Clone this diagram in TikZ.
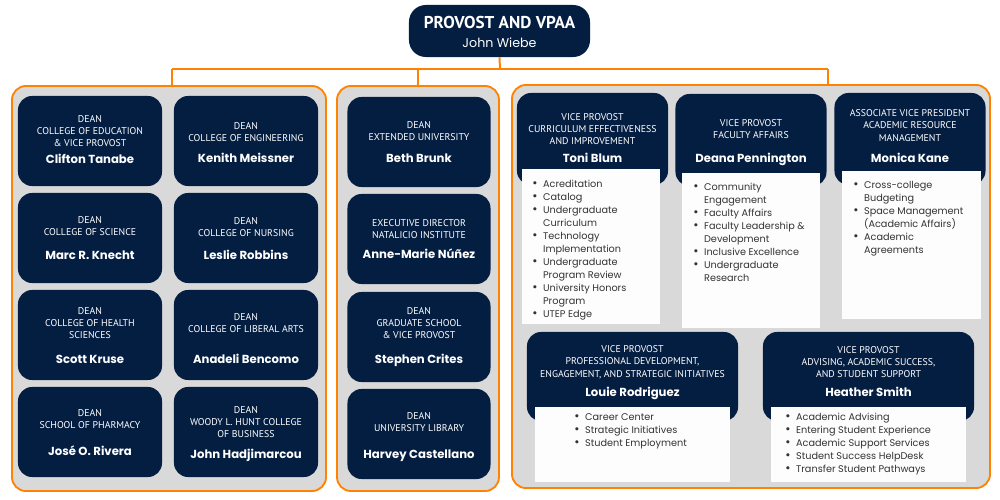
\documentclass[tikz,border=0pt]{standalone}
\usepackage{fontspec}
\setmainfont{Poppins}
\newfontfamily\rolefont{PT Sans}
\usepackage{xcolor}
\usetikzlibrary{positioning,calc}

\definecolor{utepnavy}{HTML}{041E42}
\definecolor{utepor}{HTML}{FF8200}
\definecolor{panelgray}{HTML}{D9D9D9}
\definecolor{listwhite}{HTML}{FDFDFD}
\definecolor{listgray}{HTML}{333333}

\newcommand{\bul}{{\fontsize{9}{9.25}\selectfont\textbullet}}

\begin{document}
\begin{tikzpicture}[x=0.025cm, y=-0.025cm,
    % Khung nhom (vien cam)
    panel/.style={draw=utepor, line width=1.3pt, fill=panelgray,
        rounded corners=10pt, inner sep=0pt},
    % O xanh dam
    card/.style={fill=utepnavy, rounded corners=10pt, inner sep=0pt},
    dean/.style={card, minimum width=3.6cm, minimum height=2.25cm},
    head/.style={card, minimum width=3.775cm, minimum height=2.3cm},
    widehead/.style={card, minimum width=5.275cm, minimum height=2.225cm},
    % Chuc danh va ten
    role/.style={text=white, align=center, inner sep=0pt,
        font=\rolefont\fontsize{7}{8.8}\selectfont},
    who/.style={text=white, anchor=base, inner sep=0pt,
        font=\bfseries\fontsize{8.3}{10}\selectfont},
    % O trang danh sach
    duty/.style={fill=listwhite, inner sep=0pt},
    dutytext/.style={anchor=north west, inner sep=0pt, text=listgray,
        font=\fontsize{6.9}{9.25}\selectfont},
    % Duong noi cam
    link/.style={draw=utepor, line width=1.4pt}
  ]

  \path[fill=white, use as bounding box] (0,0) rectangle (1000,500);

  % --- PROVOST ---
  \node[card, minimum width=4.525cm, minimum height=1.3cm, rounded corners=12pt] (prov) at (499.5,31) {};
  \node[text=white, inner sep=0pt, font=\rolefont\bfseries\fontsize{12.2}{14}\selectfont] (prov-t) at (499.5,22.5) {PROVOST AND VPAA};
  \node[text=white, inner sep=0pt, font=\fontsize{9}{10}\selectfont] (prov-n) at (499.5,43) {John Wiebe};

  % --- KHUNG NHOM ---
  \node[panel, minimum width=7.85cm, minimum height=10.125cm] (colp) at (169,288.5) {};
  \node[panel, minimum width=4.05cm, minimum height=10.125cm] (insp) at (418,288.5) {};
  \node[panel, minimum width=11.95cm, minimum height=10.075cm] (vpp) at (751,286.5) {};

  % --- DUONG NOI ---
  \coordinate (bus) at (500,69);
  \coordinate (busL) at (172,69);
  \coordinate (busM) at (418,69);
  \coordinate (busR) at (828,69);
  \draw[link] (prov.south) -- (bus);
  \draw[link] (busL) -- (busR);
  \draw[link] (busL) -- (busL |- colp.north);
  \draw[link] (busM) -- (busM |- insp.north);
  \draw[link] (busR) -- (busR |- vpp.north);

  % --- COT TRAI: cac truong ---
  \foreach \cx/\cy/\ry/\ny/\rl/\nm [count=\i] in {
      90/141/131/159/{DEAN\\COLLEGE OF EDUCATION\\\& VICE PROVOST}/{Clifton Tanabe},
      246/141/132/158/{DEAN\\COLLEGE OF ENGINEERING}/{Kenith Meissner},
      90/238/226/255/{DEAN\\COLLEGE OF SCIENCE}/{Marc R. Knecht},
      246/238/227/255/{DEAN\\COLLEGE OF NURSING}/{Leslie Robbins},
      90/335/323/359/{DEAN\\COLLEGE OF HEALTH\\SCIENCES}/{Scott Kruse},
      246/335/323/359/{DEAN\\COLLEGE OF LIBERAL ARTS}/{Anadeli Bencomo},
      90/432/419/451/{DEAN\\SCHOOL OF PHARMACY}/{José O. Rivera},
      246/432/422/454/{DEAN\\WOODY L. HUNT COLLEGE\\OF BUSINESS}/{John Hadjimarcou}} {
    \node[dean] (lc\i) at (\cx,\cy) {};
    \node[role] (lc\i-r) at (\cx,\ry) {\rl};
    \node[who] (lc\i-n) at (\cx,\ny+4) {\nm};
  }

  % --- COT GIUA ---
  \foreach \cy/\ry/\ny/\rl/\nm [count=\i] in {
      142/131/158/{DEAN\\EXTENDED UNIVERSITY}/{Beth Brunk},
      239/229/254/{EXECUTIVE DIRECTOR\\NATALICIO INSTITUTE}/{Anne-Marie Núñez},
      337/323/359/{DEAN\\GRADUATE SCHOOL\\\& VICE PROVOST}/{Stephen Crites},
      434/422/454/{DEAN\\UNIVERSITY LIBRARY}/{Harvey Castellano}} {
    \node[dean, minimum width=3.575cm] (mc\i) at (419,\cy) {};
    \node[role] (mc\i-r) at (419,\ry) {\rl};
    \node[who] (mc\i-n) at (419,\ny+4) {\nm};
  }

  % --- COT PHAI: hang tren ---
  \node[head] (cte) at (592.5,139) {};
  \node[duty, minimum width=3.45cm, minimum height=3.875cm] (cte-b) at (591,246.5) {};
  \node[role] (cte-r) at (592.5,129) {VICE PROVOST\\CURRICULUM EFFECTIVENESS\\AND IMPROVEMENT};
  \node[who] (cte-n) at (592.5,162) {Toni Blum};
  \node[dutytext] (cte-l) at (532,178.5) {\begin{tabular}{@{}l@{\hspace{4pt}}l@{}}
      \bul & Acreditation\\
      \bul & Catalog\\
      \bul & Undergraduate\\
           & Curriculum\\
      \bul & Technology\\
           & Implementation\\
      \bul & Undergraduate\\
           & Program Review\\
      \bul & University Honors\\
           & Program\\
      \bul & UTEP Edge
    \end{tabular}};

  \node[head] (fac) at (751,140) {};
  \node[duty, minimum width=3.45cm, minimum height=3.875cm] (fac-b) at (751,250.5) {};
  \node[role] (fac-r) at (751,129) {VICE PROVOST\\FACULTY AFFAIRS};
  \node[who] (fac-n) at (751,162) {Deana Pennington};
  \node[dutytext] (fac-l) at (693,181.5) {\begin{tabular}{@{}l@{\hspace{4pt}}l@{}}
      \bul & Community\\
           & Engagement\\
      \bul & Faculty Affairs\\
      \bul & Faculty Leadership \&\\
           & Development\\
      \bul & Inclusive Excellence\\
      \bul & Undergraduate\\
           & Research
    \end{tabular}};

  \node[head] (arm) at (910,139) {};
  \node[duty, minimum width=3.475cm, minimum height=3.7cm] (arm-b) at (911.5,245) {};
  \node[role] (arm-r) at (910,125.5) {ASSOCIATE VICE PRESIDENT\\ACADEMIC RESOURCE\\MANAGEMENT};
  \node[who] (arm-n) at (910,162) {Monica Kane};
  \node[dutytext] (arm-l) at (853,179.5) {\begin{tabular}{@{}l@{\hspace{4pt}}l@{}}
      \bul & Cross-college\\
           & Budgeting\\
      \bul & Space Management\\
           & (Academic Affairs)\\
      \bul & Academic\\
           & Agreements
    \end{tabular}};

  % --- COT PHAI: hang duoi ---
  \node[widehead] (pde) at (632.5,376.5) {};
  \node[duty, minimum width=4.875cm, minimum height=1.875cm] (pde-b) at (632.5,444.5) {};
  \node[role] (pde-r) at (632.5,362) {VICE PROVOST\\PROFESSIONAL DEVELOPMENT,\\ENGAGEMENT, AND STRATEGIC INITIATIVES};
  \node[who] (pde-n) at (632.5,396) {Louie Rodriguez};
  \node[dutytext] (pde-l) at (574,411.5) {\begin{tabular}{@{}l@{\hspace{4pt}}l@{}}
      \bul & Career Center\\
      \bul & Strategic Initiatives\\
      \bul & Student Employment
    \end{tabular}};

  \node[widehead] (aas) at (868.5,376.5) {};
  \node[duty, minimum width=4.875cm, minimum height=1.875cm] (aas-b) at (868.5,444.5) {};
  \node[role] (aas-r) at (868.5,362) {VICE PROVOST\\ADVISING, ACADEMIC SUCCESS,\\AND STUDENT SUPPORT};
  \node[who] (aas-n) at (868.5,396) {Heather Smith};
  \node[dutytext] (aas-l) at (785,411.5) {\begin{tabular}{@{}l@{\hspace{4pt}}l@{}}
      \bul & Academic Advising\\
      \bul & Entering Student Experience\\
      \bul & Academic Support Services\\
      \bul & Student Success HelpDesk\\
      \bul & Transfer Student Pathways
    \end{tabular}};

\end{tikzpicture}
\end{document}
